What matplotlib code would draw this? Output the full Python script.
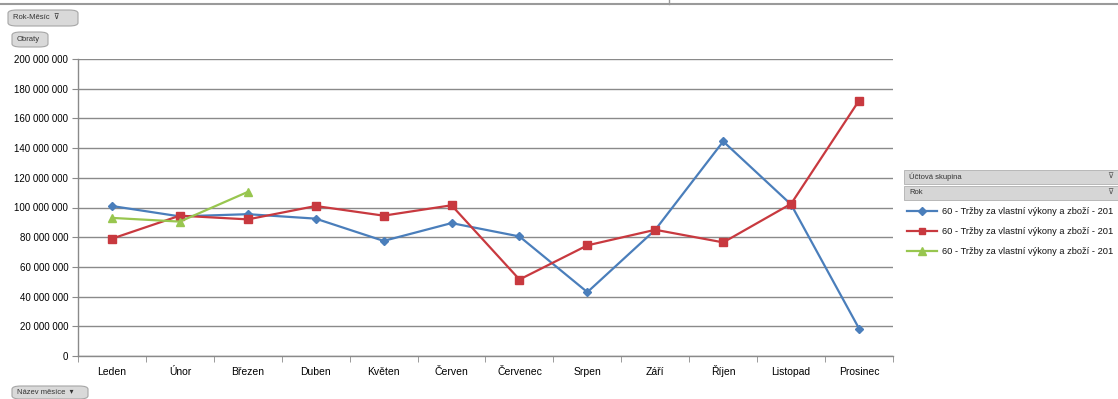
import matplotlib.pyplot as plt
import numpy as np
from matplotlib.patches import FancyBboxPatch, Rectangle
from matplotlib.ticker import FuncFormatter, FixedLocator

# --- data ---
months = ['Leden', 'Únor', 'Březen', 'Duben', 'Květen', 'Červen',
          'Červenec', 'Srpen', 'Září', 'Říjen', 'Listopad', 'Prosinec']
blue_vals = [101e6, 94e6, 95.5e6, 92.5e6, 77.5e6, 89.5e6,
             80.5e6, 43e6, 85e6, 144.5e6, 102e6, 18.5e6]
red_vals = [79e6, 94.5e6, 92e6, 101e6, 94.5e6, 101.5e6,
            51.5e6, 74.5e6, 85e6, 76.5e6, 102.5e6, 172e6]
green_vals = [93e6, 90.5e6, 110.5e6]
series_label = '60 - Tržby za vlastní výkony a zboží - 201'

c_blue = '#4A7EBB'
c_red = '#C8393F'
c_green = '#98C64F'

plt.rcParams['font.family'] = ['Liberation Sans', 'DejaVu Sans']
plt.rcParams['font.size'] = 7

W, H = 1118, 399
fig = plt.figure(figsize=(W / 100, H / 100), dpi=100)

# plot area in pixel coordinates
left, right, top, bottom = 78, 893, 59, 356
ax = fig.add_axes([left / W, 1 - bottom / H, (right - left) / W, (bottom - top) / H])

x = np.arange(len(months))
ax.plot(x, blue_vals, color=c_blue, lw=1.6, marker='D', ms=4.5, mfc=c_blue, mec=c_blue, zorder=3)
ax.plot(x, red_vals, color=c_red, lw=1.6, marker='s', ms=5.5, mfc=c_red, mec=c_red, zorder=4)
ax.plot(x[:len(green_vals)], green_vals, color=c_green, lw=1.6, marker='^', ms=6,
        mfc=c_green, mec=c_green, zorder=5)

ax.set_xlim(-0.5, len(months) - 0.5)
ax.set_ylim(0, 200e6)
ax.set_yticks(np.arange(0, 200e6 + 1, 20e6))
ax.yaxis.set_major_formatter(FuncFormatter(lambda v, p: f'{int(v):,}'.replace(',', ' ')))
ax.grid(axis='y', color='#8a8a8a', lw=1.0)
ax.set_axisbelow(True)

# category labels centred on a common baseline, tick marks on the boundaries
ax.set_xticks(x)
ax.set_xticklabels(months, fontsize=7.5, va='baseline')
ax.tick_params(axis='x', which='major', length=0, pad=14)
ax.xaxis.set_minor_locator(FixedLocator(np.arange(-0.5, len(months), 1)))
ax.tick_params(axis='x', which='minor', length=4, color='#8a8a8a', direction='out')
ax.tick_params(axis='y', length=4, color='#8a8a8a', pad=3, labelsize=7)

for s in ['top', 'right']:
    ax.spines[s].set_visible(False)
for s in ['left', 'bottom']:
    ax.spines[s].set_color('#8a8a8a')
    ax.spines[s].set_linewidth(1.0)


def px(xp, yp):
    return xp / W, 1 - yp / H


def button(x0, y0, x1, y1, text, fs=5.5):
    bx, by = px(x0, y1)
    fig.patches.append(FancyBboxPatch(
        (bx, by), (x1 - x0) / W, (y1 - y0) / H,
        boxstyle='round,pad=0,rounding_size=0.008', transform=fig.transFigure,
        facecolor='#d9d9d9', edgecolor='#a6a6a6', lw=0.8))
    tx, ty = px(x0 + 5, (y0 + y1) / 2)
    fig.text(tx, ty, text, fontsize=fs, va='center', ha='left', color='#333333')


# top strip of the sheet
fig.add_artist(plt.Line2D([0, 1], [1 - 4 / H] * 2, transform=fig.transFigure, color='#9a9a9a', lw=1.5))
fig.add_artist(plt.Line2D([669 / W] * 2, [1, 1 - 4 / H], transform=fig.transFigure, color='#9a9a9a', lw=1))

button(8, 10, 78, 26, 'Rok-Měsíc  ⊽')
button(12, 32, 48, 47, 'Obraty')
button(12, 386, 88, 399, 'Název měsíce  ▾')

# field headers above the legend
for y0, y1, name in [(170, 184, 'Účtová skupina'), (186, 200, 'Rok')]:
    rx, ry = px(904, y1)
    fig.patches.append(Rectangle((rx, ry), (W - 904) / W, (y1 - y0) / H,
                                 transform=fig.transFigure, facecolor='#d6d6d6',
                                 edgecolor='#b0b0b0', lw=0.6))
    tx, ty = px(909, (y0 + y1) / 2)
    fig.text(tx, ty, name, fontsize=5.5, va='center', color='#333333')
    fx, fy = px(1110, (y0 + y1) / 2)
    fig.text(fx, fy, '⊽', fontsize=6, va='center', ha='center', color='#555555')

# legend entries
for yp, col, mk, ms in [(211, c_blue, 'D', 4), (231, c_red, 's', 5), (251, c_green, '^', 5.5)]:
    lx0, ly = px(907, yp)
    lx1, _ = px(937, yp)
    fig.add_artist(plt.Line2D([lx0, lx1], [ly, ly], transform=fig.transFigure, color=col, lw=1.6))
    mx, _ = px(922, yp)
    fig.add_artist(plt.Line2D([mx], [ly], transform=fig.transFigure, color=col, marker=mk,
                              ms=ms, mfc=col, mec=col, lw=0))
    tx, _ = px(942, yp)
    fig.text(tx, ly, series_label, fontsize=6.7, va='center', ha='left', color='#111111')

fig.savefig('out.png', dpi=100)
